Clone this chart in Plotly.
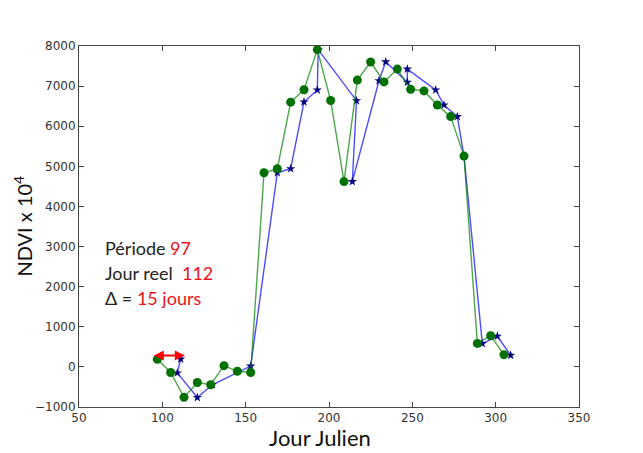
import plotly.graph_objects as go

# Green series (période, circles)
green_x = [97, 105, 113, 121, 129, 137, 145, 153, 161, 169, 177, 185, 193, 201,
           209, 217, 225, 233, 241, 249, 257, 265, 273, 281, 289, 297, 305]
green_y = [190, -140, -760, -390, -445, 30, -110, -140, 4840, 4940, 6600, 6910,
           7910, 6640, 4620, 7150, 7600, 7105, 7425, 6920, 6880, 6530, 6240,
           5255, 585, 775, 305]

# Blue series (jour réel, stars)
blue_x = [111, 109, 121, 130, 153, 169, 177, 185, 193, 193.5, 216.5, 214, 230,
          234, 247, 247, 264, 269, 277, 281, 292, 301, 309]
blue_y = [195, -150, -764, -446, 20, 4840, 4940, 6604, 6905, 7910, 6637, 4620,
          7134, 7605, 7098, 7424, 6905, 6529, 6240, 5255, 580, 764, 290]

x_ticks = [50, 100, 150, 200, 250, 300, 350]
y_ticks = [-1000, 0, 1000, 2000, 3000, 4000, 5000, 6000, 7000, 8000]

arrow_start = 94
arrow_end = 113.5
arrow_level = 281

W, H = 643, 453
ML, MR, MT, MB = 79, 64, 46, 46
PW, PH = W - ML - MR, H - MT - MB

fig = go.Figure()
fig.add_trace(go.Scatter(
    x=blue_x, y=blue_y, mode="lines+markers",
    line=dict(color="rgba(0,0,255,0.7)", width=1.4),
    marker=dict(symbol="star", size=7, color="#000080"),
    showlegend=False))
fig.add_trace(go.Scatter(
    x=green_x, y=green_y, mode="lines+markers",
    line=dict(color="rgba(0,128,0,0.7)", width=1.4),
    marker=dict(symbol="circle", size=9, color="#007000"),
    showlegend=False))

axis_common = dict(
    showgrid=False, zeroline=False, showline=True, linecolor="#444",
    linewidth=1, mirror="ticks", ticks="inside", ticklen=5, tickcolor="#444",
    tickfont=dict(family="DejaVu Sans", size=12, color="#333"),
)

fig.update_xaxes(range=[50, 350], tickvals=x_ticks, **axis_common)
fig.update_yaxes(range=[-1000, 8000], tickvals=y_ticks, **axis_common)

txt_font = dict(family="Lato", size=18, color="#222")
red = "#e8141b"
fig.add_annotation(x=64.5, y=2970, xref="x", yref="y", xanchor="left",
                   yanchor="middle", showarrow=False, font=txt_font,
                   text=f"Période <span style='color:{red}'>97</span>")
fig.add_annotation(x=64.5, y=2343, xref="x", yref="y", xanchor="left",
                   yanchor="middle", showarrow=False, font=txt_font,
                   text=f"Jour reel  <span style='color:{red}'>112</span>")
fig.add_annotation(x=64.5, y=1717, xref="x", yref="y", xanchor="left",
                   yanchor="middle", showarrow=False, font=txt_font,
                   text=f"Δ = <span style='color:{red}'>15 jours</span>")

fig.add_annotation(x=arrow_end, y=arrow_level, ax=arrow_start, ay=arrow_level,
                   xref="x", yref="y", axref="x", ayref="y", text="",
                   showarrow=True, arrowhead=2, startarrowhead=2,
                   arrowside="end+start", arrowsize=1, startarrowsize=1,
                   arrowwidth=2, arrowcolor="#ff0000", standoff=0, startstandoff=0)

fig.add_annotation(x=(22 - ML) / PW, y=0.5, xref="paper", yref="paper",
                   xanchor="center", yanchor="middle", showarrow=False,
                   textangle=-90, text="NDVI x 10<sup>4</sup>",
                   font=dict(family="Lato", size=20, color="#111"))
fig.add_annotation(x=(320 - ML) / PW, y=-(437 - (H - MB)) / PH,
                   xref="paper", yref="paper",
                   xanchor="center", yanchor="middle", showarrow=False,
                   text="Jour Julien",
                   font=dict(family="Lato", size=22, color="#111"))

fig.update_layout(
    width=W, height=H,
    margin=dict(l=ML, r=MR, t=MT, b=MB),
    paper_bgcolor="white", plot_bgcolor="white",
)

fig.write_html("out.html")
